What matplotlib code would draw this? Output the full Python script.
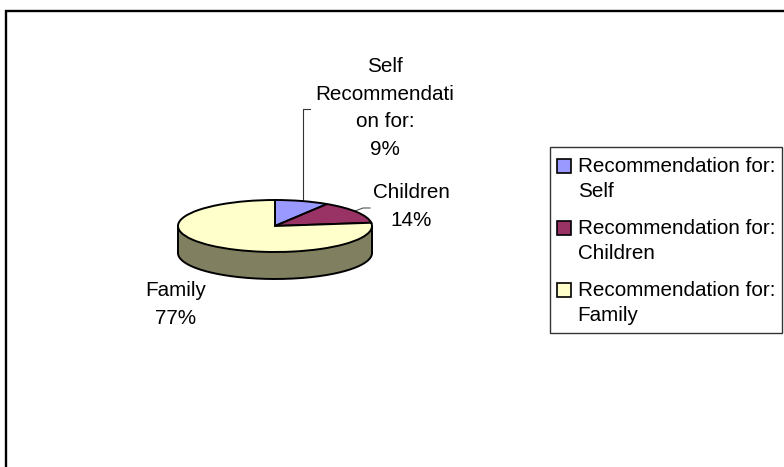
import numpy as np
import matplotlib
matplotlib.use("Agg")
import matplotlib.pyplot as plt
from matplotlib.legend_handler import HandlerPatch
from matplotlib.patches import Rectangle, Wedge

plt.rcParams['font.family'] = ['Liberation Sans', 'DejaVu Sans']

W, H = 784, 467

shares = [9, 14, 77]
legend_labels = ["Recommendation for:\nSelf",
                 "Recommendation for:\nChildren",
                 "Recommendation for:\nFamily"]
slice_labels = ["Self\nRecommendati\non for:\n9%", "Children\n14%", "Family\n77%"]
colors = ["#9999FF", "#993366", "#FFFFCC"]
wall_color = "#808060"

fig = plt.figure(figsize=(W/100, H/100), dpi=100)

# pixel overlay for the outer frame, labels and leader lines
bg = fig.add_axes([0, 0, 1, 1])
bg.set_xlim(0, W)
bg.set_ylim(H, 0)
bg.axis("off")
bg.plot([6, 6, W], [H, 10.5, 10.5], color="black", lw=1.7, solid_joinstyle="miter")

# squashed pie: rx=97 px, ry=26 px, wall 27 px deep
rx, ry, depth = 97, 26, 27
cx, cy = 275, 226
ax = fig.add_axes([(cx-rx)/W, 1-(cy+ry+depth)/H, 2*rx/W, (2*ry+depth)/H])
t = np.linspace(np.pi, 2*np.pi, 200)
d = depth/ry
ax.fill_between(np.cos(t), np.sin(t), np.sin(t)-d, color=wall_color, ec="none", clip_on=False)
ax.plot(np.cos(t), np.sin(t)-d, color="black", lw=1.4, clip_on=False)
ax.plot([-1, -1], [0, -d], color="black", lw=1.4, clip_on=False)
ax.plot([1, 1], [0, -d], color="black", lw=1.4, clip_on=False)
wedges, _ = ax.pie(shares, colors=colors, startangle=90, counterclock=False,
                   wedgeprops=dict(edgecolor="black", linewidth=1.4, clip_on=False))
ax.set_aspect("auto")
ax.set_xlim(-1, 1)
ax.set_ylim(-1-d, 1)
ax.axis("off")

fs = 14.9
bg.text(385, 108, slice_labels[0], ha="center", va="center", fontsize=fs, linespacing=1.57)
bg.text(411, 207, slice_labels[1], ha="center", va="center", fontsize=fs, linespacing=1.6)
bg.text(176, 305, slice_labels[2], ha="center", va="center", fontsize=fs, linespacing=1.6)

# leader lines
bg.plot([303, 303, 310], [200, 109, 109], color="#333333", lw=0.8)
bg.plot([355, 363, 370], [211, 208, 208], color="#555555", lw=0.8)

# legend box drawn apart, its padding is not even on all sides
bg.add_patch(Rectangle((550, 147), 232, 186, fc="white", ec="#333333", lw=1.0))


# legend swatch sits on the first text line, not centred on the entry
def top_swatch(legend, orig_handle, xdescent, ydescent, width, height, fontsize):
    return Rectangle((-xdescent, -ydescent + 9.4), width, height)


leg = bg.legend(wedges, legend_labels, loc="upper left",
                bbox_to_anchor=(550/W, 1-150/H), bbox_transform=fig.transFigure,
                fontsize=fs, frameon=False,
                handlelength=0.68, handleheight=0.68,
                handletextpad=0.32, labelspacing=0.85, borderpad=0.34, borderaxespad=0,
                handler_map={Wedge: HandlerPatch(patch_func=top_swatch)})
for txt in leg.get_texts():
    txt.set_linespacing(1.42)
for p in leg.get_patches():
    p.set_linewidth(1.2)

fig.savefig("out.png", dpi=100)
